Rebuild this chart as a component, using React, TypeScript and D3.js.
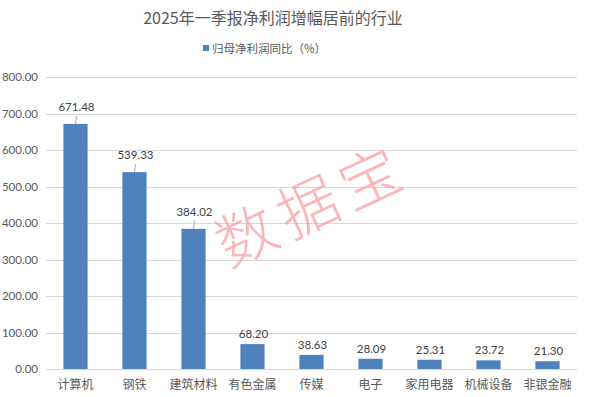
import { useEffect, useRef } from 'react';
import * as d3 from 'd3';

const categories = ['计算机', '钢铁', '建筑材料', '有色金属', '传媒', '电子', '家用电器', '机械设备', '非银金融'];
const growth = [671.48, 539.33, 384.02, 68.2, 38.63, 28.09, 25.31, 23.72, 21.3];
const yTicks = [0, 100, 200, 300, 400, 500, 600, 700, 800];

const title = '2025年一季报净利润增幅居前的行业';
const seriesName = '归母净利润同比（%）';
const watermark = '数据宝';

const FONT = "Lato, 'Noto Sans CJK SC', sans-serif";
const CJK = "'Noto Sans CJK SC', sans-serif";
const TEXT = '#595959';
const BAR = '#4f81bd';

function drawChart(el: SVGSVGElement) {
  const svg = d3.select(el);
  svg.selectAll('*').remove();

  const width = 590;
  const height = 397;
  const margin = { top: 77, right: 13, bottom: 28, left: 46 };

  const x = d3
    .scaleBand<string>()
    .domain(categories)
    .range([margin.left, width - margin.right])
    .paddingInner(0.59)
    .paddingOuter(0.295);

  const y = d3
    .scaleLinear()
    .domain([0, 800])
    .range([height - margin.bottom, margin.top]);

  // gridlines
  svg
    .append('g')
    .selectAll('line')
    .data(yTicks)
    .join('line')
    .attr('x1', margin.left)
    .attr('x2', width - margin.right)
    .attr('y1', (d: number) => Math.round(y(d)) + 0.5)
    .attr('y2', (d: number) => Math.round(y(d)) + 0.5)
    .attr('stroke', '#d9d9d9')
    .attr('stroke-width', 1);

  // y tick labels
  svg
    .append('g')
    .selectAll('text')
    .data(yTicks)
    .join('text')
    .attr('x', 38)
    .attr('y', (d: number) => y(d))
    .attr('dy', '0.35em')
    .attr('text-anchor', 'end')
    .attr('font-family', FONT)
    .attr('font-size', 11.5)
    .attr('fill', TEXT)
    .text((d: number) => d.toFixed(2));

  const data = categories.map((c, i) => ({ c, v: growth[i] }));

  svg
    .append('g')
    .selectAll('rect')
    .data(data)
    .join('rect')
    .attr('x', (d: { c: string }) => x(d.c) ?? 0)
    .attr('y', (d: { v: number }) => y(d.v))
    .attr('width', x.bandwidth())
    .attr('height', (d: { v: number }) => y(0) - y(d.v))
    .attr('fill', BAR);

  // data labels; the tall bars have labels lifted with a leader line
  const lifted = (v: number) => v > 100;
  const labelY = (v: number) => y(v) - (lifted(v) ? 17 : 10);

  svg
    .append('g')
    .selectAll('line')
    .data(data.filter((d) => lifted(d.v)))
    .join('line')
    .attr('x1', (d: { c: string }) => (x(d.c) ?? 0) + x.bandwidth() / 2 + 1)
    .attr('x2', (d: { c: string }) => (x(d.c) ?? 0) + x.bandwidth() / 2)
    .attr('y1', (d: { v: number }) => y(d.v) - 8)
    .attr('y2', (d: { v: number }) => y(d.v))
    .attr('stroke', '#a6a6a6')
    .attr('stroke-width', 1);

  svg
    .append('g')
    .selectAll('text')
    .data(data)
    .join('text')
    .attr('x', (d: { c: string }) => (x(d.c) ?? 0) + x.bandwidth() / 2 + 1)
    .attr('y', (d: { v: number }) => labelY(d.v))
    .attr('dy', '0.35em')
    .attr('text-anchor', 'middle')
    .attr('font-family', FONT)
    .attr('font-size', 11.5)
    .attr('fill', '#404040')
    .text((d: { v: number }) => d.v.toFixed(2));

  // category labels
  svg
    .append('g')
    .selectAll('text')
    .data(categories)
    .join('text')
    .attr('x', (d: string) => (x(d) ?? 0) + x.bandwidth() / 2)
    .attr('y', 385)
    .attr('dy', '0.35em')
    .attr('text-anchor', 'middle')
    .attr('font-family', CJK)
    .attr('font-size', 12)
    .attr('fill', TEXT)
    .text((d: string) => d);

  // title
  svg
    .append('text')
    .attr('x', 273)
    .attr('y', 18)
    .attr('dy', '0.35em')
    .attr('text-anchor', 'middle')
    .attr('font-family', CJK)
    .attr('font-size', 16)
    .attr('fill', TEXT)
    .text(title);

  // legend
  svg
    .append('rect')
    .attr('x', 203)
    .attr('y', 45)
    .attr('width', 6)
    .attr('height', 6)
    .attr('fill', BAR);
  svg
    .append('text')
    .attr('x', 212)
    .attr('y', 48.5)
    .attr('dy', '0.35em')
    .attr('font-family', CJK)
    .attr('font-size', 11.5)
    .attr('fill', TEXT)
    .text(seriesName);

  // watermark
  svg
    .append('text')
    .attr('transform', 'translate(312,206) rotate(-25)')
    .attr('text-anchor', 'middle')
    .attr('dy', '0.35em')
    .attr('font-family', CJK)
    .attr('font-weight', 300)
    .attr('font-size', 60)
    .attr('letter-spacing', 8)
    .attr('fill', '#f9a0a0')
    .attr('opacity', 0.75)
    .text(watermark);
}

export default function App() {
  const ref = useRef<SVGSVGElement>(null);

  useEffect(() => {
    if (ref.current) {
      drawChart(ref.current);
    }
  }, []);

  return (
    <svg
      ref={ref}
      width={590}
      height={397}
      style={{ position: 'absolute', left: 0, top: 0, background: '#fff' }}
    />
  );
}
